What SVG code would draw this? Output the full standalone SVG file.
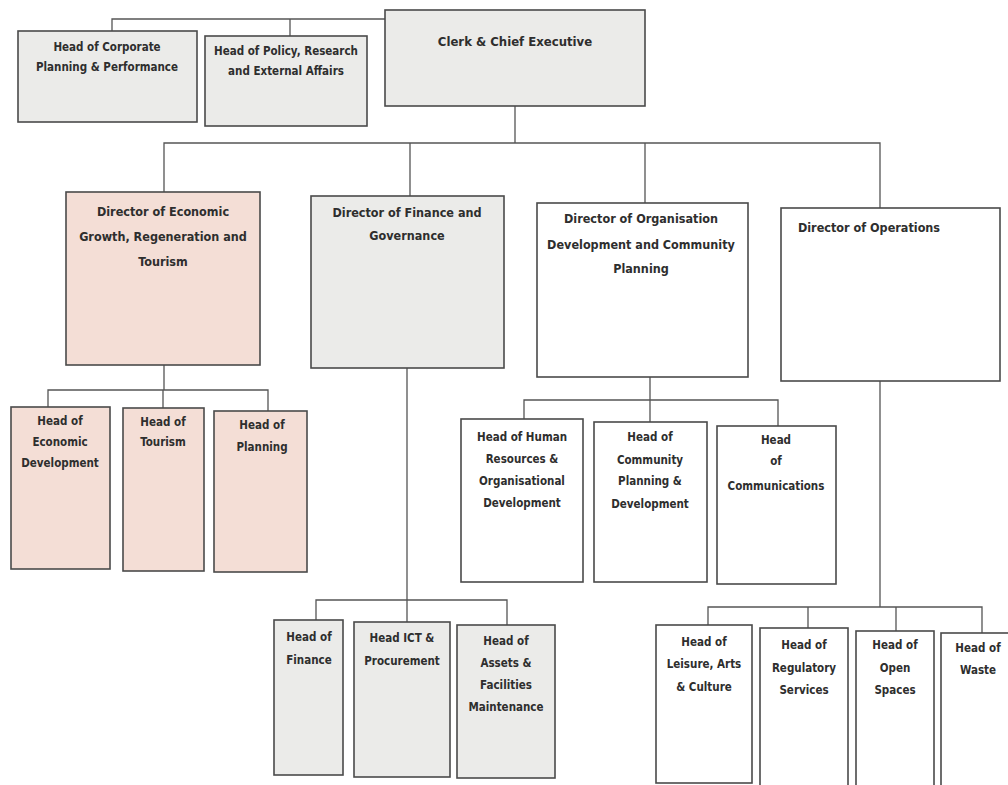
<svg xmlns="http://www.w3.org/2000/svg" width="1008" height="785" viewBox="0 0 1008 785">
<style>
.box{stroke:#4a4a4a;stroke-width:1.6}
.pink{fill:#f4ded6}
.grey{fill:#ebebe9}
.white{fill:#ffffff}
.t{font-family:"DejaVu Sans Condensed","Liberation Sans",sans-serif;font-weight:bold;font-size:11.5px;fill:#2e2e2e;text-anchor:middle}
.c{stroke:#555;stroke-width:1.3;fill:none}
</style>
<rect width="1008" height="785" fill="#ffffff"/>
<g id="connectors">
<path class="c" d="M112 31 V19 H385 M290 19 V36"/>
<path class="c" d="M515 106 V143 M164 192 V143 H880 V208 M410 143 V196 M645 143 V203"/>
<path class="c" d="M164 365 V390 M48 407 V390 H268 V411 M163 390 V408"/>
<path class="c" d="M407 368 V600 M316 620 V600 H507 V625 M407 600 V622"/>
<path class="c" d="M650 377 V400 M524 419 V400 H778 V426 M650 400 V422"/>
<path class="c" d="M880 381 V607 M708 625 V607 H982 V633 M808 607 V628 M896 607 V631"/>
</g>
<g id="n-corp"><rect class="box grey" x="18" y="31" width="179" height="91"/><text class="t" x="107" y="51">Head of Corporate</text><text class="t" x="107" y="71">Planning &amp; Performance</text></g>
<g id="n-policy"><rect class="box grey" x="205" y="36" width="162" height="90"/><text class="t" x="286" y="55">Head of Policy, Research</text><text class="t" x="286" y="75">and External Affairs</text></g>
<g id="n-clerk"><rect class="box grey" x="385" y="10" width="260" height="96"/><text class="t" x="515" y="46" style="font-size:13px">Clerk &amp; Chief Executive</text></g>
<g id="n-econ"><rect class="box pink" x="66" y="192" width="194" height="173"/><text class="t" x="163" y="216" style="font-size:12.5px">Director of Economic</text><text class="t" x="163" y="241" style="font-size:12.5px">Growth, Regeneration and</text><text class="t" x="163" y="266" style="font-size:12.5px">Tourism</text></g>
<g id="n-fin"><rect class="box grey" x="311" y="196" width="193" height="172"/><text class="t" x="407" y="217" style="font-size:12.5px">Director of Finance and</text><text class="t" x="407" y="240" style="font-size:12.5px">Governance</text></g>
<g id="n-org"><rect class="box white" x="537" y="203" width="211" height="174"/><text class="t" x="641" y="223" style="font-size:12.5px">Director of Organisation</text><text class="t" x="641" y="249" style="font-size:12.5px">Development and Community</text><text class="t" x="641" y="273" style="font-size:12.5px">Planning</text></g>
<g id="n-ops"><rect class="box white" x="781" y="208" width="219" height="173"/><text class="t" x="869" y="232" style="font-size:12.5px">Director of Operations</text></g>
<g id="n-ecodev"><rect class="box pink" x="11" y="407" width="99" height="162"/><text class="t" x="60" y="425">Head of</text><text class="t" x="60" y="446">Economic</text><text class="t" x="60" y="467">Development</text></g>
<g id="n-tourism"><rect class="box pink" x="123" y="408" width="81" height="163"/><text class="t" x="163" y="426">Head of</text><text class="t" x="163" y="446">Tourism</text></g>
<g id="n-planning"><rect class="box pink" x="214" y="411" width="93" height="161"/><text class="t" x="262" y="429">Head of</text><text class="t" x="262" y="451">Planning</text></g>
<g id="n-finance"><rect class="box grey" x="274" y="620" width="69" height="155"/><text class="t" x="309" y="641">Head of</text><text class="t" x="309" y="664">Finance</text></g>
<g id="n-ict"><rect class="box grey" x="354" y="622" width="96" height="155"/><text class="t" x="402" y="642">Head ICT &amp;</text><text class="t" x="402" y="665">Procurement</text></g>
<g id="n-assets"><rect class="box grey" x="457" y="625" width="98" height="153"/><text class="t" x="506" y="645">Head of</text><text class="t" x="506" y="667">Assets &amp;</text><text class="t" x="506" y="689">Facilities</text><text class="t" x="506" y="711">Maintenance</text></g>
<g id="n-hr"><rect class="box white" x="461" y="419" width="122" height="163"/><text class="t" x="522" y="441">Head of Human</text><text class="t" x="522" y="463">Resources &amp;</text><text class="t" x="522" y="485">Organisational</text><text class="t" x="522" y="507">Development</text></g>
<g id="n-comm"><rect class="box white" x="594" y="422" width="113" height="160"/><text class="t" x="650" y="441">Head of</text><text class="t" x="650" y="464">Community</text><text class="t" x="650" y="485">Planning &amp;</text><text class="t" x="650" y="508">Development</text></g>
<g id="n-comms"><rect class="box white" x="717" y="426" width="119" height="158"/><text class="t" x="776" y="444">Head</text><text class="t" x="776" y="465">of</text><text class="t" x="776" y="490">Communications</text></g>
<g id="n-leisure"><rect class="box white" x="656" y="625" width="96" height="158"/><text class="t" x="704" y="646">Head of</text><text class="t" x="704" y="668">Leisure, Arts</text><text class="t" x="704" y="691">&amp; Culture</text></g>
<g id="n-reg"><rect class="box white" x="760" y="628" width="88" height="160"/><text class="t" x="804" y="649">Head of</text><text class="t" x="804" y="672">Regulatory</text><text class="t" x="804" y="694">Services</text></g>
<g id="n-open"><rect class="box white" x="856" y="631" width="78" height="157"/><text class="t" x="895" y="649">Head of</text><text class="t" x="895" y="672">Open</text><text class="t" x="895" y="694">Spaces</text></g>
<g id="n-waste"><rect class="box white" x="941" y="633" width="70" height="155"/><text class="t" x="978" y="652">Head of</text><text class="t" x="978" y="674">Waste</text></g>
</svg>
